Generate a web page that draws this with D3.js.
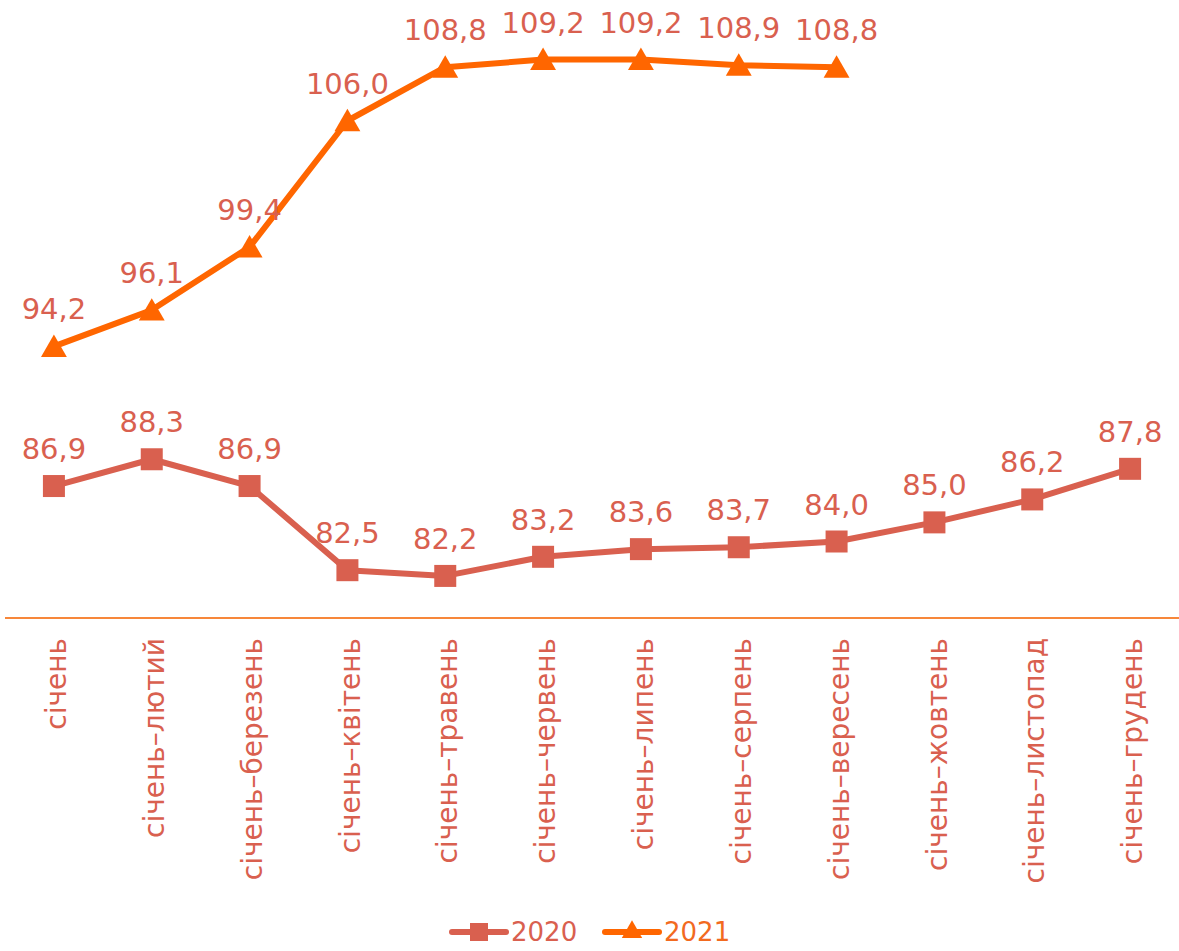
<!DOCTYPE html>
<html>
<head>
<meta charset="utf-8">
<script src="https://cdn.jsdelivr.net/npm/d3@7"></script>
<style>
  body { margin: 0; background: #fff; }
  svg { display: block; font-family: "DejaVu Sans", Verdana, sans-serif; }
</style>
</head>
<body>
<div id="chart"></div>
<script>
const months = ["січень", "січень–лютий", "січень–березень", "січень–квітень", "січень–травень",
  "січень–червень", "січень–липень", "січень–серпень", "січень–вересень", "січень–жовтень",
  "січень–листопад", "січень–грудень"];
const values2020 = [86.9, 88.3, 86.9, 82.5, 82.2, 83.2, 83.6, 83.7, 84.0, 85.0, 86.2, 87.8];
const values2021 = [94.2, 96.1, 99.4, 106.0, 108.8, 109.2, 109.2, 108.9, 108.8];
const seriesNames = ["2020", "2021"];

function create_line_chart(targetElementId) {
    const width = 1179, height = 951;
    const textColor = "#d9604f";
    const c2020 = "#d9604f", c2021 = "#ff6600";

    const svg = d3.select(`#${targetElementId}`).append("svg")
        .attr("width", width)
        .attr("height", height);

    // scales
    const x = d3.scaleBand()
        .domain(months)
        .range([5, 1179]);
    const cx = d => x(d) + x.bandwidth() / 2;

    const y = d3.scaleLinear()
        .domain([80, 112])
        .range([618, 6]);

    const fmt = v => v.toFixed(1).replace(".", ",");

    // x axis baseline
    svg.append("line")
        .attr("x1", 5).attr("x2", 1179)
        .attr("y1", y(80)).attr("y2", y(80))
        .style("stroke", "#f7873a")
        .style("stroke-width", 2);

    // category labels
    svg.selectAll(".catLabel")
        .data(months)
        .enter()
        .append("text")
            .attr("class", "catLabel")
            .attr("transform", d => `translate(${cx(d) + 2},638) rotate(-90)`)
            .attr("text-anchor", "end")
            .attr("dy", "0.36em")
            .style("font-size", "28px")
            .style("fill", textColor)
            .text(d => d);

    const line = d3.line()
        .x(d => cx(d.m))
        .y(d => y(d.v));

    const d2020 = values2020.map((v, i) => ({ m: months[i], v }));
    const d2021 = values2021.map((v, i) => ({ m: months[i], v }));

    // 2020 series
    svg.append("path")
        .datum(d2020)
        .attr("d", line)
        .style("fill", "none")
        .style("stroke", c2020)
        .style("stroke-width", 6)
        .style("stroke-linejoin", "round");

    svg.selectAll(".sq")
        .data(d2020)
        .enter()
        .append("rect")
            .attr("class", "sq")
            .attr("x", d => cx(d.m) - 11)
            .attr("y", d => y(d.v) - 11)
            .attr("width", 22)
            .attr("height", 22)
            .style("fill", c2020);

    // 2021 series
    svg.append("path")
        .datum(d2021)
        .attr("d", line)
        .style("fill", "none")
        .style("stroke", c2021)
        .style("stroke-width", 6)
        .style("stroke-linejoin", "round");

    const tri = d3.symbol().type(d3.symbolTriangle).size(290);
    svg.selectAll(".tri")
        .data(d2021)
        .enter()
        .append("path")
            .attr("class", "tri")
            .attr("d", tri)
            .attr("transform", d => `translate(${cx(d.m)},${y(d.v) + 3})`)
            .style("fill", c2021);

    // value labels
    [d2020, d2021].forEach(data => {
        svg.selectAll(null)
            .data(data)
            .enter()
            .append("text")
                .attr("x", d => cx(d.m))
                .attr("y", d => y(d.v) - 27)
                .attr("text-anchor", "middle")
                .style("font-size", "29px")
                .style("fill", textColor)
                .text(d => fmt(d.v));
    });

    // legend
    const legend = svg.append("g").attr("transform", "translate(0,932)");
    const items = [
        { name: seriesNames[0], color: c2020, x: 452, sym: "sq" },
        { name: seriesNames[1], color: c2021, x: 605, sym: "tri" }
    ];
    items.forEach(it => {
        legend.append("line")
            .attr("x1", it.x).attr("x2", it.x + 54)
            .attr("y1", 0).attr("y2", 0)
            .style("stroke", it.color)
            .style("stroke-width", 6)
            .style("stroke-linecap", "round");
        if (it.sym === "sq") {
            legend.append("rect")
                .attr("x", it.x + 27 - 9).attr("y", -9)
                .attr("width", 18).attr("height", 18)
                .style("fill", it.color);
        } else {
            legend.append("path")
                .attr("d", d3.symbol().type(d3.symbolTriangle).size(180))
                .attr("transform", `translate(${it.x + 27},0)`)
                .style("fill", it.color);
        }
        legend.append("text")
            .attr("x", it.x + 59)
            .attr("y", 0)
            .attr("dy", "0.36em")
            .style("font-size", "26px")
            .style("fill", it.color === c2021 ? "#f26a1f" : textColor)
            .text(it.name);
    });
}

create_line_chart("chart");
</script>
</body>
</html>
